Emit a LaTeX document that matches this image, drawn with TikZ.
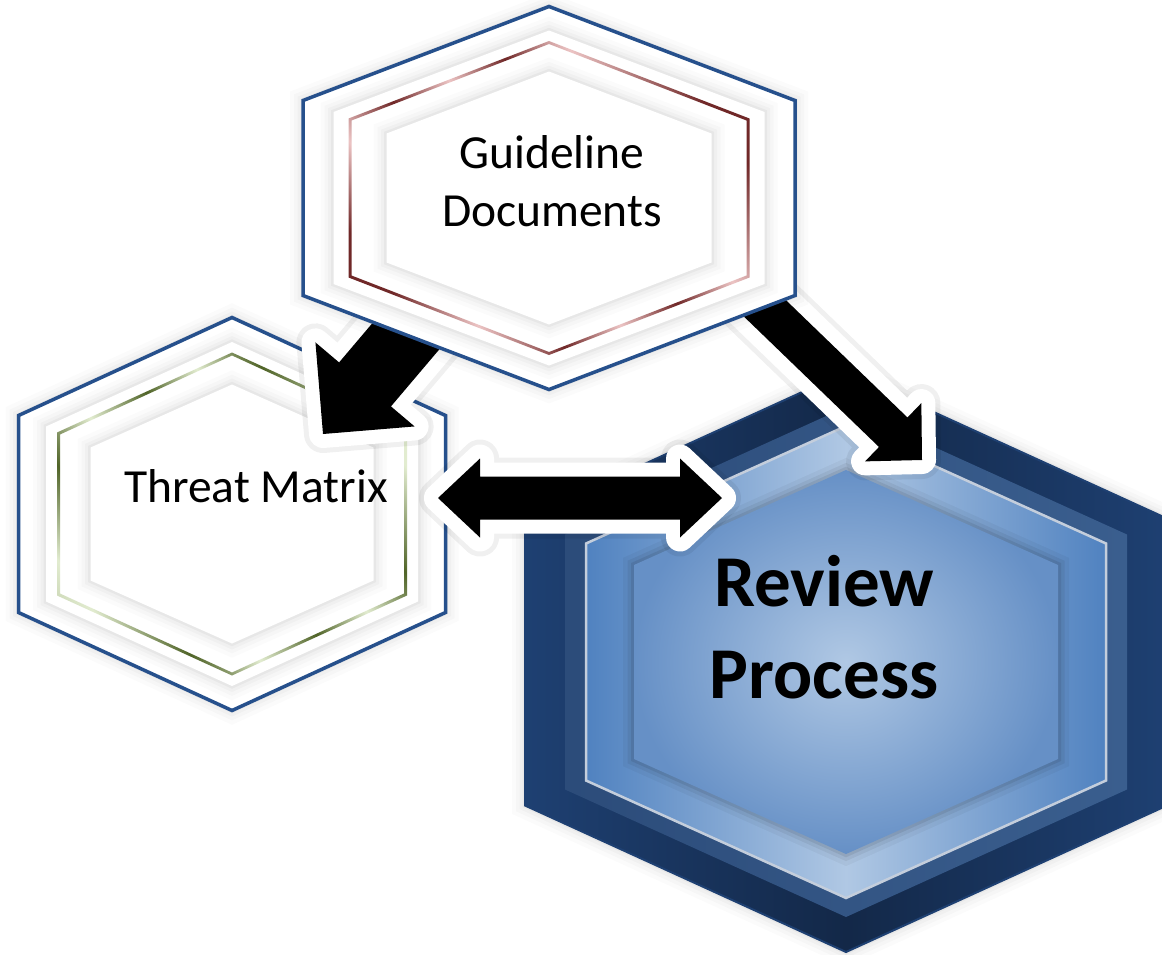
\documentclass[tikz,border=0pt]{standalone}
\usepackage{fontspec}
\setmainfont{Carlito}
\usetikzlibrary{calc}

\definecolor{hexblue}{RGB}{38,80,140}
\definecolor{gdbrown}{RGB}{112,40,40}
\definecolor{gdpink}{RGB}{236,196,196}
\definecolor{tmgreen}{RGB}{80,100,40}
\definecolor{tmlight}{RGB}{226,236,208}
\definecolor{rvnavy}{RGB}{19,40,72}
\definecolor{rvnavyedge}{RGB}{30,64,114}
\definecolor{rvslate}{RGB}{58,94,142}
\definecolor{rvslatedark}{RGB}{44,76,122}
\definecolor{rvblue}{RGB}{80,130,192}
\definecolor{rvpale}{RGB}{176,200,228}
\definecolor{rvsilver}{RGB}{196,206,220}
\definecolor{rvcore}{RGB}{102,144,198}

\pgfdeclarehorizontalshading{brownmetal}{100bp}{color(0bp)=(gdbrown); color(25bp)=(gdbrown);
  color(32bp)=(gdpink); color(40bp)=(gdbrown); color(48bp)=(gdpink); color(56bp)=(gdbrown);
  color(64bp)=(gdpink); color(75bp)=(gdbrown); color(100bp)=(gdbrown)}
\pgfdeclarehorizontalshading{greenmetal}{100bp}{color(0bp)=(tmgreen); color(25bp)=(tmlight);
  color(33bp)=(tmgreen); color(41bp)=(tmlight); color(50bp)=(tmgreen); color(58bp)=(tmlight);
  color(66bp)=(tmgreen); color(75bp)=(tmlight); color(100bp)=(tmlight)}

% hexagon: centre x, centre y, half width, half height, half side
\newcommand{\hexa}[5]{(#1,#2-#4) -- (#1+#3,#2-#5) -- (#1+#3,#2+#5) -- (#1,#2+#4)
  -- (#1-#3,#2+#5) -- (#1-#3,#2-#5) -- cycle}

% block arrow: from, to, shaft half width, head half width, head length
\newcommand{\blockarrow}[5]{%
  \coordinate (ah) at ($(#2)!#5!(#1)$);
  \path[bigarrow] ($(#1)!#3!90:(#2)$) -- ($(ah)!#3!90:(#2)$) -- ($(ah)!#4!90:(#2)$) -- (#2)
    -- ($(ah)!#4!-90:(#2)$) -- ($(ah)!#3!-90:(#2)$) -- ($(#1)!#3!-90:(#2)$) -- cycle;
}
\newcommand{\doublearrow}[5]{%
  \coordinate (ha) at ($(#1)!#5!(#2)$);
  \coordinate (hb) at ($(#2)!#5!(#1)$);
  \path[bigarrow] (#1) -- ($(ha)!#4!90:(#2)$) -- ($(ha)!#3!90:(#2)$) -- ($(hb)!#3!90:(#2)$)
    -- ($(hb)!#4!90:(#2)$) -- (#2) -- ($(hb)!#4!-90:(#2)$) -- ($(hb)!#3!-90:(#2)$)
    -- ($(ha)!#3!-90:(#2)$) -- ($(ha)!#4!-90:(#2)$) -- cycle;
}

\tikzset{
  hexline/.style={draw=hexblue, line width=3.5pt, fill=white},
  glow/.style={preaction={draw=black, opacity=0.015, line width=26pt},
               preaction={draw=black, opacity=0.02, line width=18pt},
               preaction={draw=black, opacity=0.025, line width=11pt},
               preaction={draw=black, opacity=0.035, line width=5pt}},
  deepglow/.style={preaction={draw=black, opacity=0.04, line width=22pt},
               preaction={draw=black, opacity=0.06, line width=13pt},
               preaction={draw=black, opacity=0.08, line width=6pt}},
  bigarrow/.style={fill=black,
               preaction={draw=black, opacity=0.06, line width=38pt, line join=round},
               preaction={draw=white, line width=28pt, line join=round}},
  hexlabel/.style={font=\fontsize{47.5}{58}\selectfont, align=center, inner sep=0pt},
  reviewlabel/.style={font=\fontsize{73}{92}\selectfont\bfseries, align=center, inner sep=0pt}
}

\begin{document}
\begin{tikzpicture}[x=1pt, y=-1pt]
\useasboundingbox (0,0) rectangle (1162,954);

% Threat Matrix
\path[hexline, glow] \hexa{232}{514}{213.5}{196.5}{98.5};
\path[fill=white, glow] \hexa{232}{514}{186}{172}{87.5};
\shade[shading=greenmetal, shading angle=35, even odd rule]
  \hexa{232}{514}{175}{161.5}{81.5} \hexa{232}{514}{172}{158.5}{79.5};
\path[fill=white, glow] \hexa{232}{514}{141.5}{129.5}{66.5};

% Review Process
\shadedraw[left color=rvnavyedge, right color=rvnavyedge, middle color=rvnavy,
  draw=rvnavyedge, line width=2pt, glow] \hexa{846}{662}{321}{290}{143.5};
\shade[left color=rvslatedark, right color=rvslate] \hexa{846}{662}{281}{255}{127.5};
\shadedraw[left color=rvblue, right color=rvblue, middle color=rvpale,
  draw=rvsilver, line width=2.5pt] \hexa{846}{662}{260}{236}{118.5};
\shade[inner color=rvpale, outer color=rvcore, deepglow] \hexa{846}{662}{212}{192}{97};

\coordinate (gd-left) at (462,270);
\coordinate (gd-right) at (749,293);
\coordinate (tm-tip) at (323,434);
\coordinate (rv-tip) at (922,460);
\coordinate (tm-side) at (438,498);
\coordinate (rv-side) at (722,498);

\doublearrow{tm-side}{rv-side}{21.5pt}{39.5pt}{42pt}
\blockarrow{gd-left}{tm-tip}{34pt}{65pt}{65pt}
\blockarrow{gd-right}{rv-tip}{20.5pt}{40.5pt}{40pt}

% Guideline Documents
\path[hexline, glow] \hexa{549}{198}{246}{191.5}{97.5};
\path[fill=white, glow] \hexa{549}{198}{215.5}{167.5}{86};
\shade[shading=brownmetal, shading angle=35, even odd rule]
  \hexa{549}{198}{200.5}{157}{79.5} \hexa{549}{198}{197.5}{154}{77.5};
\path[fill=white, glow] \hexa{549}{198}{162.5}{126.5}{64.5};

\node[hexlabel] (guide) at (552,181) {Guideline\\Documents};
\node[hexlabel, anchor=base] (threat) at (256,502) {Threat Matrix};
\node[reviewlabel] (review) at (824,627) {Review\\Process};
\end{tikzpicture}
\end{document}
